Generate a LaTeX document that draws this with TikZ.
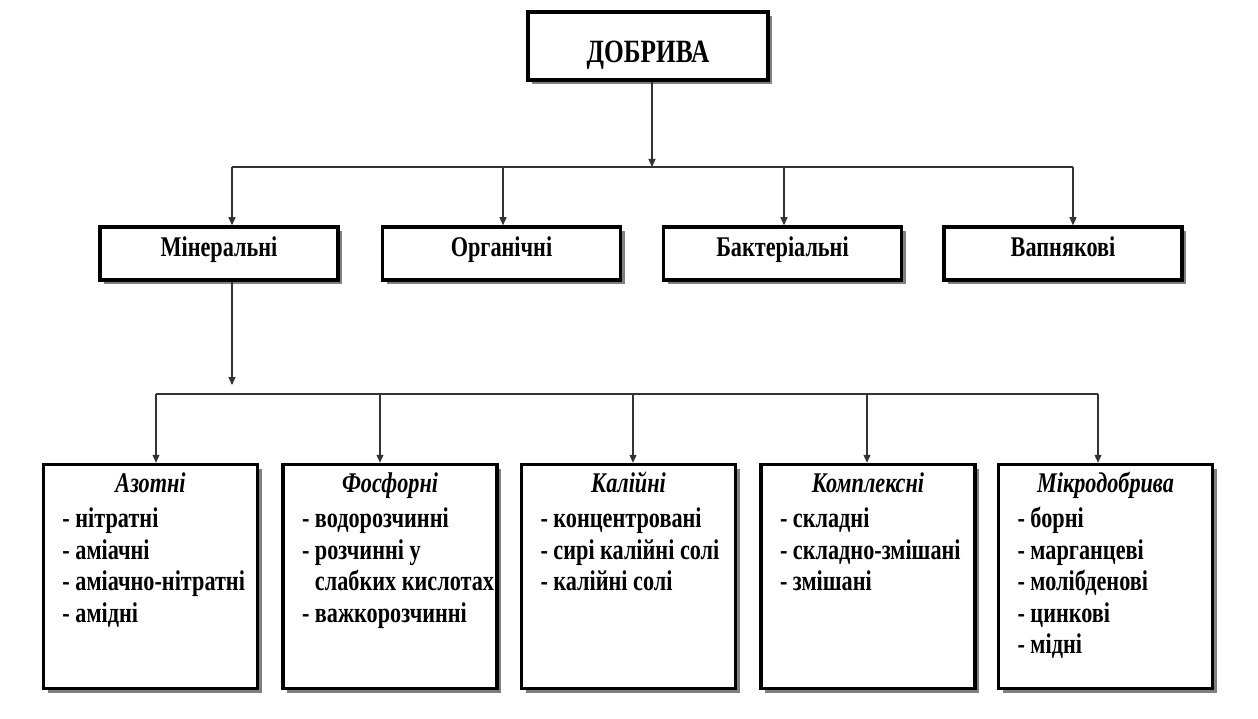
\documentclass[tikz,border=0pt]{standalone}
\usepackage{fontspec}
\setmainfont{Liberation Serif}[FakeStretch=0.78]
\usetikzlibrary{positioning, arrows.meta, shadows}
\definecolor{linegray}{HTML}{333333}
\definecolor{shadowgray}{HTML}{808080}

% text of a lower box: title on top, list below
\newcommand{\kindtext}[2]{%
  \parbox[c][212pt][t]{204pt}{\centering\strut\textit{#1}\par\vspace{3.5pt}%
  \raggedright\leftskip=14pt #2\par}}

\begin{document}
\begin{tikzpicture}[
    x=1pt, y=-1pt,
    every node/.style={font=\bfseries\fontsize{28.5}{31.5}\selectfont},
    box/.style={draw, line width=3.5pt, fill=white,
      drop shadow={shadow xshift=4pt, shadow yshift=-4pt, fill=shadowgray, opacity=1}},
    root/.style={box, minimum width=240pt, minimum height=68pt,
      text height=34pt, text depth=0pt,
      font=\bfseries\fontsize{32.5}{36}\selectfont},
    grp/.style={box, minimum width=238pt, minimum height=53pt,
      text height=19pt, text depth=12pt},
    kind/.style={box, inner xsep=5pt, inner ysep=6pt},
    conn/.style={draw=linegray, line width=1.2pt},
    arr/.style={conn, -{Triangle[length=8pt, width=7pt]}},
  ]
  \useasboundingbox (0,0) rectangle (1258,719);

  \node[root] (root) at (648,46) {ДОБРИВА};

  \node[grp] (g1) at (219,253.5) {Мінеральні};
  \node[grp] (g2) at (501.5,253.5) {Органічні};
  \node[grp] (g3) at (782.5,253.5) {Бактеріальні};
  \node[grp] (g4) at (1063,253.5) {Вапнякові};

  \node[kind] (k1) at (150.5,576.5) {\kindtext{Азотні}{- нітратні\\ - аміачні\\ - аміачно-нітратні\\ - амідні}};
  \node[kind] (k2) at (390,576.5) {\kindtext{Фосфорні}{- водорозчинні\\ - розчинні у\\ \mbox{\phantom{- }слабких кислотах}\\ - важкорозчинні}};
  \node[kind] (k3) at (628.5,576.5) {\kindtext{Калійні}{- концентровані\\ - сирі калійні солі\\ - калійні солі}};
  \node[kind] (k4) at (868,576.5) {\kindtext{Комплексні}{- складні\\ - складно-змішані\\ - змішані}};
  \node[kind] (k5) at (1105.5,576.5) {\kindtext{Мікродобрива}{- борні\\ - марганцеві\\ - молібденові\\ - цинкові\\ - мідні}};

  % upper bus
  \coordinate (j0) at (652,167);
  \coordinate (d1) at (232,167);
  \coordinate (d2) at (503,167);
  \coordinate (d3) at (784,167);
  \coordinate (d4) at (1073,167);
  \draw[arr] (root.south -| j0) -- (j0);
  \draw[conn] (d1) -- (d4);
  \draw[arr] (d1) -- (d1 |- g1.north);
  \draw[arr] (d2) -- (d2 |- g2.north);
  \draw[arr] (d3) -- (d3 |- g3.north);
  \draw[arr] (d4) -- (d4 |- g4.north);

  % lower bus
  \coordinate (m0) at (232,385);
  \coordinate (e1) at (156,394);
  \coordinate (e2) at (380,394);
  \coordinate (e3) at (633,394);
  \coordinate (e4) at (867,394);
  \coordinate (e5) at (1098,394);
  \draw[arr] (g1.south -| m0) -- (m0);
  \draw[conn] (e1) -- (e5);
  \draw[arr] (e1) -- (e1 |- k1.north);
  \draw[arr] (e2) -- (e2 |- k2.north);
  \draw[arr] (e3) -- (e3 |- k3.north);
  \draw[arr] (e4) -- (e4 |- k4.north);
  \draw[arr] (e5) -- (e5 |- k5.north);
\end{tikzpicture}
\end{document}
